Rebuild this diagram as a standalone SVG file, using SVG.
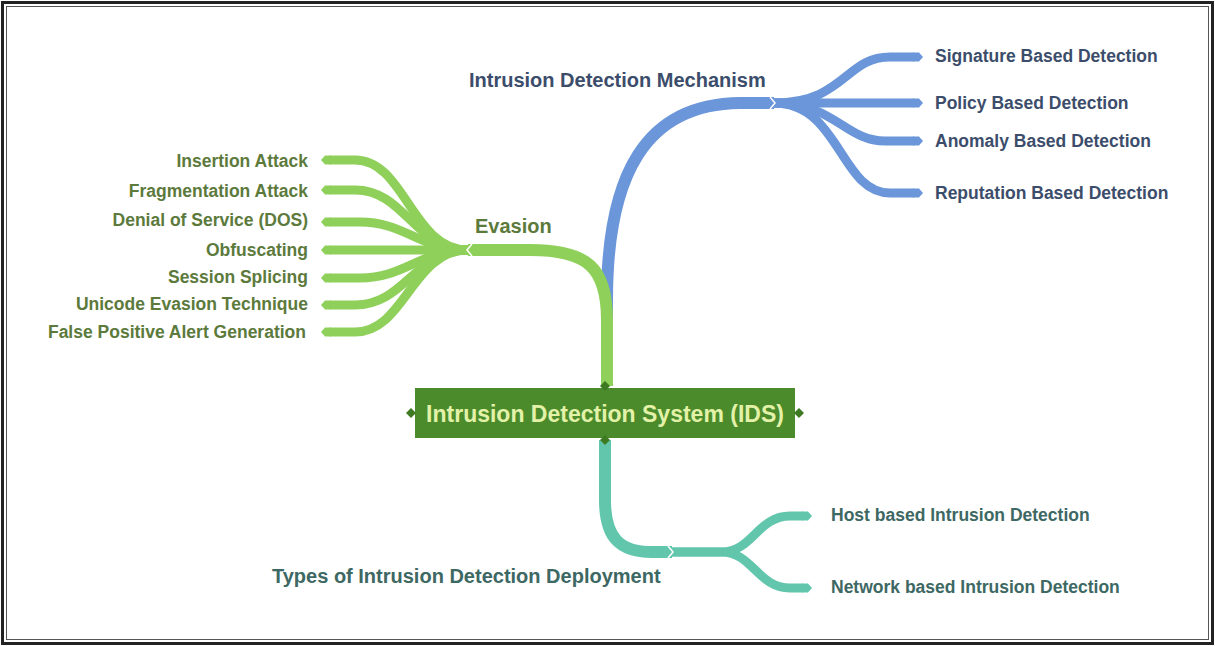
<svg xmlns="http://www.w3.org/2000/svg" width="1215" height="646" viewBox="0 0 1215 646">
<style>
text{font-family:"Liberation Sans",Arial,sans-serif;font-weight:bold}
.b{fill:none;stroke:#6b96d9;stroke-linecap:butt}
.g{fill:none;stroke:#8fd05b;stroke-linecap:butt}
.t{fill:none;stroke:#62c6ad;stroke-linecap:butt}
.trunk{stroke-width:12}
.kid{stroke-width:9}
.lb{fill:#3c4d6b}
.lg{fill:#5c7a3c}
.lt{fill:#3d6863}
.main{font-size:20px}
.leaf{font-size:17.5px}
.notch{fill:none;stroke:#fff;stroke-width:1.5}
</style>
<defs>
<marker id="ab" viewBox="0 0 10 10" refX="1" refY="5" markerWidth="10" markerHeight="10" markerUnits="userSpaceOnUse" orient="auto"><path d="M0,0.5 L6,0.5 L10,5 L6,9.5 L0,9.5Z" fill="#6b96d9"/></marker>
<marker id="ag" viewBox="0 0 10 10" refX="1" refY="5" markerWidth="10" markerHeight="10" markerUnits="userSpaceOnUse" orient="auto"><path d="M0,0.5 L6,0.5 L10,5 L6,9.5 L0,9.5Z" fill="#8fd05b"/></marker>
<marker id="at" viewBox="0 0 10 10" refX="1" refY="5" markerWidth="10" markerHeight="10" markerUnits="userSpaceOnUse" orient="auto"><path d="M0,0.5 L6,0.5 L10,5 L6,9.5 L0,9.5Z" fill="#62c6ad"/></marker>
</defs>
<rect width="1215" height="646" fill="#fff"/>
<rect x="2.5" y="2.5" width="1210" height="641" fill="none" stroke="#222" stroke-width="3"/>
<rect x="6.5" y="6.5" width="1202" height="633" fill="none" stroke="#555" stroke-width="1"/>

<g id="connectors">
  <!-- blue -->
  <path class="b trunk" d="M607,386 L607,300 C607,175 645,104 740,103 L774,103"/>
  <path class="b kid" marker-end="url(#ab)" d="M774,103 C845,103 845,57 890,57 L914,57"/>
  <path class="b kid" marker-end="url(#ab)" d="M774,103 L914,103"/>
  <path class="b kid" marker-end="url(#ab)" d="M774,103 C835,103 845,141 885,141 L914,141"/>
  <path class="b kid" marker-end="url(#ab)" d="M774,103 C840,103 840,193 890,193 L914,193"/>
  <path class="notch" d="M770,97 L775,103 L770,109"/>
  <!-- green -->
  <path class="g trunk" d="M607,386 L607,320 C607,268 588,250 530,250 L468,250"/>
  <path class="g kid" marker-end="url(#ag)" d="M468,250 C412,250 405,160 355,160 L330,160"/>
  <path class="g kid" marker-end="url(#ag)" d="M468,250 C415,250 405,190 355,190 L330,190"/>
  <path class="g kid" marker-end="url(#ag)" d="M468,250 C420,250 405,222 360,222 L330,222"/>
  <path class="g kid" marker-end="url(#ag)" d="M468,250 L330,250"/>
  <path class="g kid" marker-end="url(#ag)" d="M468,250 C420,250 405,278 360,278 L330,278"/>
  <path class="g kid" marker-end="url(#ag)" d="M468,250 C415,250 405,305 355,305 L330,305"/>
  <path class="g kid" marker-end="url(#ag)" d="M468,250 C412,250 405,332 355,332 L330,332"/>
  <path class="notch" d="M472,244 L467,250 L472,256"/>
  <!-- teal -->
  <path class="t trunk" d="M605,440 L605,500 C605,538 620,552 652,552 L672,552"/>
  <path class="t kid" marker-end="url(#at)" d="M672,552 L722,552 C752,552 758,516 790,516 L803,516"/>
  <path class="t kid" marker-end="url(#at)" d="M672,552 L722,552 C752,552 758,588 790,588 L803,588"/>
  <path class="notch" d="M668,546 L673,552 L668,558"/>
</g>

<g id="central">
  <rect x="415" y="388" width="380" height="50" fill="#4b8b2b"/>
  <path d="M605,381 L610,386 L605,391 L600,386Z" fill="#3d7a22"/>
  <path d="M605,435 L610,440 L605,445 L600,440Z" fill="#3d7a22"/>
  <path d="M411,408 L416,413 L411,418 L406,413Z" fill="#3d7a22"/>
  <path d="M799,408 L804,413 L799,418 L794,413Z" fill="#3d7a22"/>
  <text x="605" y="422" font-size="23" fill="#e3f2a8" text-anchor="middle">Intrusion Detection System (IDS)</text>
</g>

<g id="mechanism"><text class="lb main" x="469" y="87">Intrusion Detection Mechanism</text></g>
<g id="signature"><text class="lb leaf" x="935" y="62">Signature Based Detection</text></g>
<g id="policy"><text class="lb leaf" x="935" y="109">Policy Based Detection</text></g>
<g id="anomaly"><text class="lb leaf" x="935" y="147">Anomaly Based Detection</text></g>
<g id="reputation"><text class="lb leaf" x="935" y="199">Reputation Based Detection</text></g>

<g id="evasion"><text class="lg main" x="475" y="233">Evasion</text></g>
<g id="insertion"><text class="lg leaf" x="308" y="167" text-anchor="end">Insertion Attack</text></g>
<g id="fragmentation"><text class="lg leaf" x="308" y="197" text-anchor="end">Fragmentation Attack</text></g>
<g id="dos"><text class="lg leaf" x="308" y="226" text-anchor="end">Denial of Service (DOS)</text></g>
<g id="obfuscating"><text class="lg leaf" x="308" y="256" text-anchor="end">Obfuscating</text></g>
<g id="splicing"><text class="lg leaf" x="308" y="283" text-anchor="end">Session Splicing</text></g>
<g id="unicode"><text class="lg leaf" x="308" y="310" text-anchor="end">Unicode Evasion Technique</text></g>
<g id="falsepositive"><text class="lg leaf" x="306" y="338" text-anchor="end">False Positive Alert Generation</text></g>

<g id="deployment"><text class="lt main" x="272" y="583">Types of Intrusion Detection Deployment</text></g>
<g id="host"><text class="lt leaf" x="831" y="521">Host based Intrusion Detection</text></g>
<g id="network"><text class="lt leaf" x="831" y="593">Network based Intrusion Detection</text></g>
</svg>
